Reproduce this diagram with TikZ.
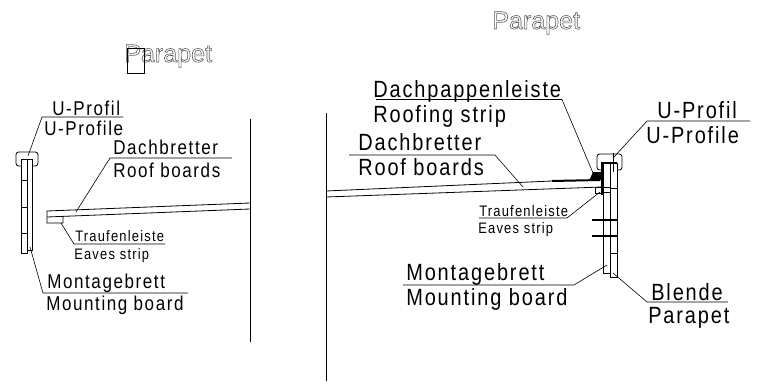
\documentclass[tikz,border=0pt]{standalone}
\usepackage{fontspec}
\setmainfont{Liberation Sans}
\newfontfamily\isofont[FakeStretch=0.85,LetterSpace=8]{Liberation Sans}
\newcommand{\outlined}[1]{\special{pdf:code q 1 Tr 0.45 w 0.35 G}#1\special{pdf:code Q}}
\tikzset{
  line/.style={black,line width=0.6pt},
  thin line/.style={black,line width=0.45pt},
  heavy/.style={black,line width=1.5pt},
  lab/.style={anchor=base west,inner sep=0pt,font=\isofont\fontsize{15}{17}\selectfont},
  big lab/.style={anchor=base west,inner sep=0pt,font=\isofont\fontsize{17.6}{20}\selectfont},
  small lab/.style={anchor=base west,inner sep=0pt,font=\isofont\fontsize{11.4}{13}\selectfont},
  title/.style={anchor=base west,inner sep=0pt,font=\fontsize{18.8}{20}\selectfont},
}
\begin{document}
\begin{tikzpicture}[x=0.75pt,y=-0.75pt]
    \useasboundingbox (0,0) rectangle (757,382);

    % left wall
    \draw[line] (250,119) -- (250,342);
    % left title
    \node[title] (parapetA) at (124,62) {\outlined{Parapet}};
    \draw[thin line] (127,48) rectangle (144,73);
    % left boards
    \draw[line] (21,159) rectangle (27,253);
    \draw[line] (27,159) rectangle (32,250);
    \draw[line] (21,180) -- (27,180);
    \draw[line] (21,207) -- (27,207);
    \draw[line] (21,233) -- (27,233);
    % left cap
    \draw[line,rounded corners=2pt] (21,166) -- (16,166) -- (16,152) -- (38,152) -- (38,166) -- (33,166);
    % left roof
    \draw[line] (250,203) -- (47,211) -- (47,223) -- (63,223) -- (63,217);
    \draw[line] (47,217) -- (250,209);

    % left labels
    \node[lab] (uprofilA) at (52,115) {U-Profil};
    \node[lab] (uprofileA) at (44,135) {U-Profile};
    \node[lab] (brettA) at (113,154) {Dachbretter};
    \node[lab] (boardsA) at (113,177) {Roof boards};
    \node[small lab] (traufeA) at (75,241) {Traufenleiste};
    \node[small lab] (eavesA) at (74,259) {Eaves strip};
    \node[lab] (montageA) at (47,288) {Montagebrett};
    \node[lab] (mountA) at (46,310) {Mounting board};
    % left leaders
    \draw[thin line] (123,117) -- (42,117) -- (28,156);
    \draw[thin line] (232,158) -- (110,158) -- (76,212);
    \draw[thin line] (165,244) -- (74,244) -- (61,223);
    \draw[thin line] (188,293) -- (43,293) -- (30,247);

    % right wall
    \draw[line] (326.5,113) -- (326.5,381);
    % right title
    \node[title] (parapetB) at (492,29) {\outlined{Parapet}};
    % right roof
    \draw[line] (326,191) -- (552,181);
    \draw[heavy] (552,181) -- (600,180);
    \draw[line] (326,197) -- (602,187);
    % right boards
    \draw[line] (603,163) -- (603,273) -- (610,273);
    \draw[line] (610,163) -- (610,277) -- (617,277) -- (617,163);
    \draw[line] (603,187) -- (610,187);
    \draw[line] (603,192) -- (610,192);
    \draw[line] (610,188) -- (617,188);
    \draw[line] (610,253) -- (617,253);
    \draw[line] (595,187) rectangle (602,193);
    \draw[heavy] (602,195) -- (602,163) -- (617,163);
    \fill[black] (589,181) -- (593,172) -- (602,172) -- (603,180) -- cycle;
    \draw[heavy] (592,220) -- (618,220);
    \draw[heavy] (592,236) -- (618,236);
    % right cap
    \draw[line,rounded corners=2pt] (601,170) -- (597,170) -- (597,154) -- (622,154) -- (622,170) -- (618,170);
    \draw[line] (613,153) -- (613,172);

    % right labels
    \node[big lab] (pappeB) at (373,97) {Dachpappenleiste};
    \node[big lab] (stripB) at (373,122) {Roofing strip};
    \node[big lab] (brettB) at (358,150) {Dachbretter};
    \node[big lab] (boardsB) at (358,175) {Roof boards};
    \node[small lab] (traufeB) at (479,216) {Traufenleiste};
    \node[small lab] (eavesB) at (478,233) {Eaves strip};
    \node[big lab] (uprofilB) at (657,118) {U-Profil};
    \node[big lab] (uprofileB) at (646,143) {U-Profile};
    \node[big lab] (montageB) at (406,280) {Montagebrett};
    \node[big lab] (mountB) at (406,305) {Mounting board};
    \node[big lab] (blendeB) at (651,300) {Blende};
    \node[big lab] (parapetC) at (648,323) {Parapet};
    % right leaders
    \draw[thin line] (376,99.5) -- (562,99.5) -- (593,173);
    \draw[thin line] (349,155) -- (495,155) -- (523,187);
    \draw[thin line] (479,218) -- (567,218) -- (600,192);
    \draw[thin line] (750,121) -- (647,121) -- (613,158);
    \draw[thin line] (403,285) -- (574,285) -- (607,265);
    \draw[thin line] (728,302) -- (647,302) -- (613,273);
\end{tikzpicture}
\end{document}
